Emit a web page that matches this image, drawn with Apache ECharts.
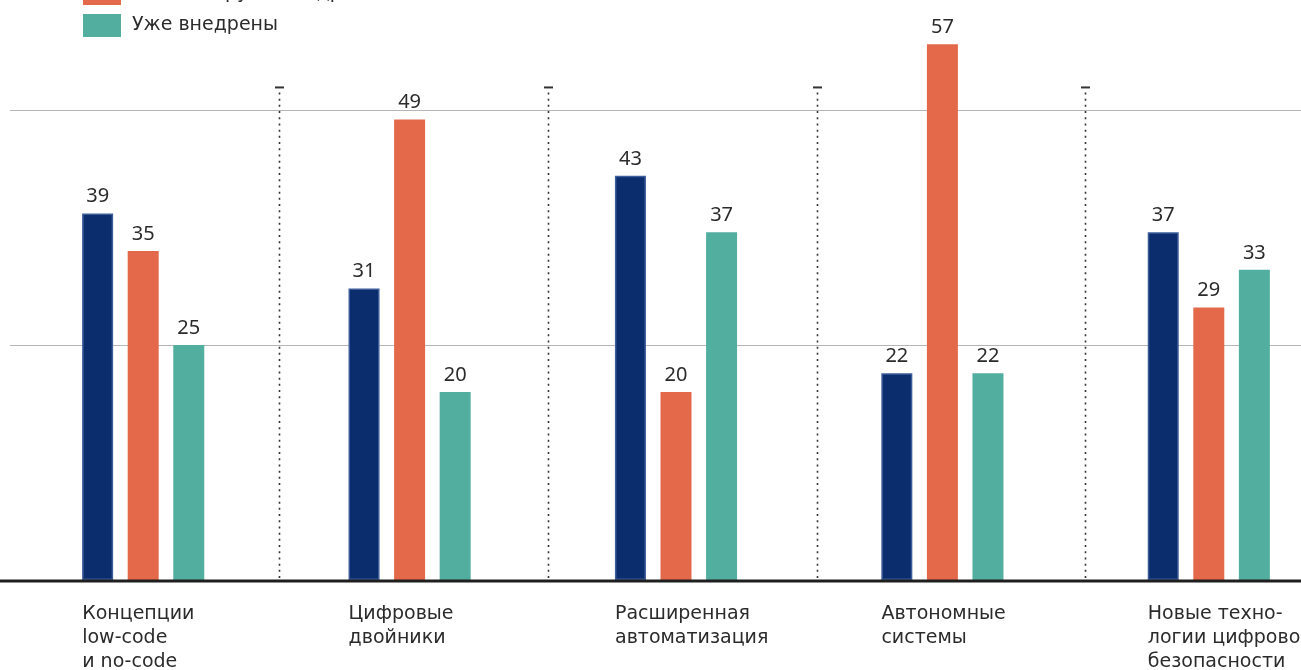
<!DOCTYPE html>
<html lang="ru">
<head>
<meta charset="utf-8">
<title>Внедрение технологий</title>
<script src="https://cdn.jsdelivr.net/npm/echarts@6/dist/echarts.min.js"></script>
<style>
  html, body { margin: 0; padding: 0; background: #ffffff; }
  #chart { width: 1301px; height: 670px; }
</style>
</head>
<body>
<div id="chart"></div>
<script>
// Technology groups (x axis)
const categories = [
  'Концепции\nlow-code\nи no-code',
  'Цифровые\nдвойники',
  'Расширенная\nавтоматизация',
  'Автономные\nсистемы',
  'Новые техно-\nлогии цифровой\nбезопасности'
];

// Series names
const seriesNames = ['Планируют внедрить', 'Не планируют внедрять', 'Уже внедрены'];

// Values, %
const planned    = [39, 31, 43, 22, 37];
const notPlanned = [35, 49, 20, 57, 29];
const adopted    = [25, 20, 37, 22, 33];

const colors = ['#0b2d6d', '#e4694a', '#52ae9f'];
const FONT = '"Noto Sans", "DejaVu Sans", sans-serif';
const WIDE_FONT = '"DejaVu Sans", "Noto Sans", sans-serif';
const TEXT = '#2b2b2b';

const chart = echarts.init(document.getElementById('chart'), null, { renderer: 'canvas' });

const gridTop = 16, gridBottom = 90, gridWidth = 1332;

function barSeries(name, data, color, extra) {
  return Object.assign({
    name: name,
    type: 'bar',
    data: data,
    barWidth: 31,
    barGap: '47%',
    itemStyle: { color: color },
    label: {
      show: true,
      position: 'top',
      distance: 7,
      fontFamily: FONT,
      fontSize: 20,
      color: TEXT
    },
    z: 3
  }, extra || {});
}

// dotted separators between groups, with a short dash on top
const sepTop = 52.4;
const separatorSeries = {
  type: 'custom',
  silent: true,
  z: 1,
  data: [[0], [1], [2], [3]],
  encode: { x: 0 },
  renderItem: function (params, api) {
    const i = api.value(0);
    const band = api.size([1, 0])[0];
    const x = Math.round(api.coord([i, 0])[0] + band / 2 + 3 + 2.2 * i) + 0.5;
    const y0 = api.coord([i, 0])[1];
    const y1 = api.coord([i, sepTop])[1];
    return {
      type: 'group',
      children: [
        {
          type: 'line',
          shape: { x1: x, y1: y1 + 5, x2: x, y2: y0 },
          style: { stroke: '#333', lineWidth: 1.6, lineDash: [2, 4.2] }
        },
        {
          type: 'line',
          shape: { x1: x - 4.5, y1: y1, x2: x + 4.5, y2: y1 },
          style: { stroke: '#333', lineWidth: 2 }
        }
      ]
    };
  }
};

const option = {
  animation: false,
  backgroundColor: '#ffffff',
  textStyle: { fontFamily: FONT },
  color: colors,
  legend: {
    data: seriesNames,
    orient: 'vertical',
    left: 82,
    top: -52,
    padding: 0,
    itemWidth: 38,
    itemHeight: 23,
    itemGap: 9,
    icon: 'rect',
    selectedMode: false,
    textStyle: { fontFamily: WIDE_FONT, fontSize: 19, color: TEXT, padding: [0, 0, 0, 6] }
  },
  grid: [
    { left: 10, top: gridTop, bottom: gridBottom, width: gridWidth, outerBoundsMode: 'none', containLabel: false },
    // label grid: same band layout, shifted so labels start at the first bar
    { left: 10 - 61, top: gridTop, bottom: gridBottom, width: gridWidth, outerBoundsMode: 'none', containLabel: false }
  ],
  xAxis: [
    {
      type: 'category',
      gridIndex: 0,
      data: categories,
      axisLine: { show: false },
      axisTick: { show: false },
      axisLabel: { show: false }
    },
    {
      type: 'category',
      gridIndex: 1,
      data: categories,
      axisLine: { show: false },
      axisTick: { show: false },
      axisLabel: {
        show: true,
        align: 'left',
        verticalAlign: 'top',
        margin: 22,
        interval: 0,
        hideOverlap: false,
        fontFamily: WIDE_FONT,
        fontSize: 19,
        lineHeight: 24,
        color: TEXT
      }
    }
  ],
  yAxis: [
    {
      type: 'value',
      gridIndex: 0,
      min: 0,
      max: 60,
      interval: 25,
      axisLine: { show: false },
      axisTick: { show: false },
      axisLabel: { show: false },
      splitLine: {
        show: true,
        showMinLine: false,
        showMaxLine: false,
        lineStyle: { color: '#b5b5b5', width: 1 }
      }
    },
    {
      type: 'value',
      gridIndex: 1,
      min: 0,
      max: 60,
      show: false,
      splitLine: { show: false }
    }
  ],
  series: [
    barSeries(seriesNames[0], planned, colors[0], {
      itemStyle: { color: colors[0], borderColor: '#3d5c9a', borderWidth: 1.5 }
    }),
    barSeries(seriesNames[1], notPlanned, colors[1]),
    barSeries(seriesNames[2], adopted, colors[2]),
    separatorSeries
  ]
};

chart.setOption(option);

// heavy baseline across the full width at zero
const yZero = chart.convertToPixel({ yAxisIndex: 0 }, 0);
chart.setOption({
  graphic: [{
    type: 'line',
    silent: true,
    z: 10,
    shape: { x1: 0, y1: yZero + 1, x2: 1301, y2: yZero + 1 },
    style: { stroke: '#1e1e1e', lineWidth: 3 }
  }]
});
</script>
</body>
</html>
